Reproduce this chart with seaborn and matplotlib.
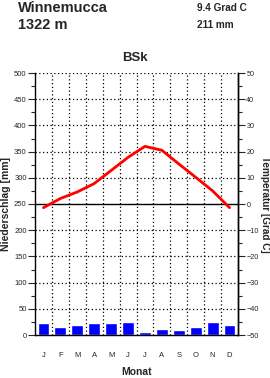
import numpy as np
import pandas as pd
import matplotlib
matplotlib.use("Agg")
import matplotlib.pyplot as plt
from matplotlib.ticker import MultipleLocator
import seaborn as sns

months = ["J", "F", "M", "A", "M", "J", "J", "A", "S", "O", "N", "D"]
precip = [22, 16, 20, 22, 22, 24, 6, 11, 9, 15, 24, 20]
temp = [-1.4, 2.1, 4.6, 7.8, 12.8, 17.8, 22.0, 20.5, 15.3, 10.2, 5.0, -1.4]
station = "Winnemucca"
elev = "1322 m"
mean_t = "9.4 Grad C"
total_p = "211 mm"
climate = "BSk"

sns.set_theme(style="white")
plt.rcParams['font.family'] = ['Liberation Sans', 'DejaVu Sans']

fig = plt.figure(figsize=(2.7, 3.78), dpi=100)
L, R, T, B = 35 / 270, 238 / 270, 73 / 378, 335 / 378
ax = fig.add_axes([L, 1 - B, R - L, B - T])

df = pd.DataFrame({"m": list(range(12)), "p": precip, "t": temp})
sns.barplot(x="m", y="p", data=df, ax=ax, color="#0000ff", width=0.7,
            saturation=1, native_scale=True)
ax.set_xlim(-0.5, 11.5)
ax.set_ylim(0, 500)
ax.set_xticks(range(12))
ax.set_xticklabels(months, fontsize=5.5)
ax.tick_params(axis="x", length=0, pad=12)
ax.yaxis.set_major_locator(MultipleLocator(50))
ax.yaxis.set_minor_locator(MultipleLocator(25))
ax.tick_params(axis="y", which="major", length=5, width=0.8, labelsize=5.5, pad=1, direction="out", left=True)
ax.tick_params(axis="y", which="minor", length=3, width=0.8, direction="out", left=True)
for v in range(50, 501, 50):
    if v != 250:
        ax.axhline(v, color="black", lw=0.9, ls=(0, (1, 2)), zorder=0)
for xv in np.arange(0.5, 11, 1):
    ax.axvline(xv, color="black", lw=0.9, ls=(0, (1, 2)), zorder=0)
ax.axhline(250, color="black", lw=1.0, zorder=1)
ax.set_xlabel("Monat", fontsize=7.5, fontweight="bold", labelpad=6)
ax.set_ylabel("Niederschlag [mm]", fontsize=7.5, fontweight="bold", labelpad=2)
for s in ["left", "bottom", "right"]:
    ax.spines[s].set_visible(True)
    ax.spines[s].set_color("black")
    ax.spines[s].set_linewidth(1.0)
ax.spines["top"].set_visible(False)

ax2 = ax.twinx()
sns.lineplot(x="m", y="t", data=df, ax=ax2, color="#ff0000", lw=2)
ax2.set_xlim(-0.5, 11.5)
ax2.set_ylim(-50, 50)
ax2.yaxis.set_major_locator(MultipleLocator(10))
ax2.yaxis.set_minor_locator(MultipleLocator(5))
ax2.tick_params(axis="y", which="major", length=5, width=0.8, labelsize=5.2, pad=1, direction="out", right=True)
ax2.tick_params(axis="y", which="minor", length=3, width=0.8, direction="out", right=True)
ax2.set_ylabel("Temperatur [Grad C]", fontsize=7.2, fontweight="bold", rotation=270,
               va="center", ha="center")
ax2.yaxis.set_label_coords((265.5 - 35) / 203, 0.5)
ax2.spines["top"].set_visible(False)
ax2.spines["right"].set_color("black")
ax2.spines["right"].set_linewidth(1.0)
ax2.spines["left"].set_visible(False)
ax2.spines["bottom"].set_visible(False)

fig.text(18 / 270, 1 - 1 / 378, station, fontsize=10.5, fontweight="bold", va="top", ha="left")
fig.text(18 / 270, 1 - 18 / 378, elev, fontsize=10.5, fontweight="bold", va="top", ha="left")
fig.text(197 / 270, 1 - 3 / 378, mean_t, fontsize=7.2, fontweight="bold", va="top", ha="left")
fig.text(197 / 270, 1 - 20 / 378, total_p, fontsize=7.2, fontweight="bold", va="top", ha="left")
fig.text(135 / 270, 1 - 52 / 378, climate, fontsize=9.5, fontweight="bold", va="top", ha="center")

fig.savefig("out.png", dpi=100, facecolor="white")
